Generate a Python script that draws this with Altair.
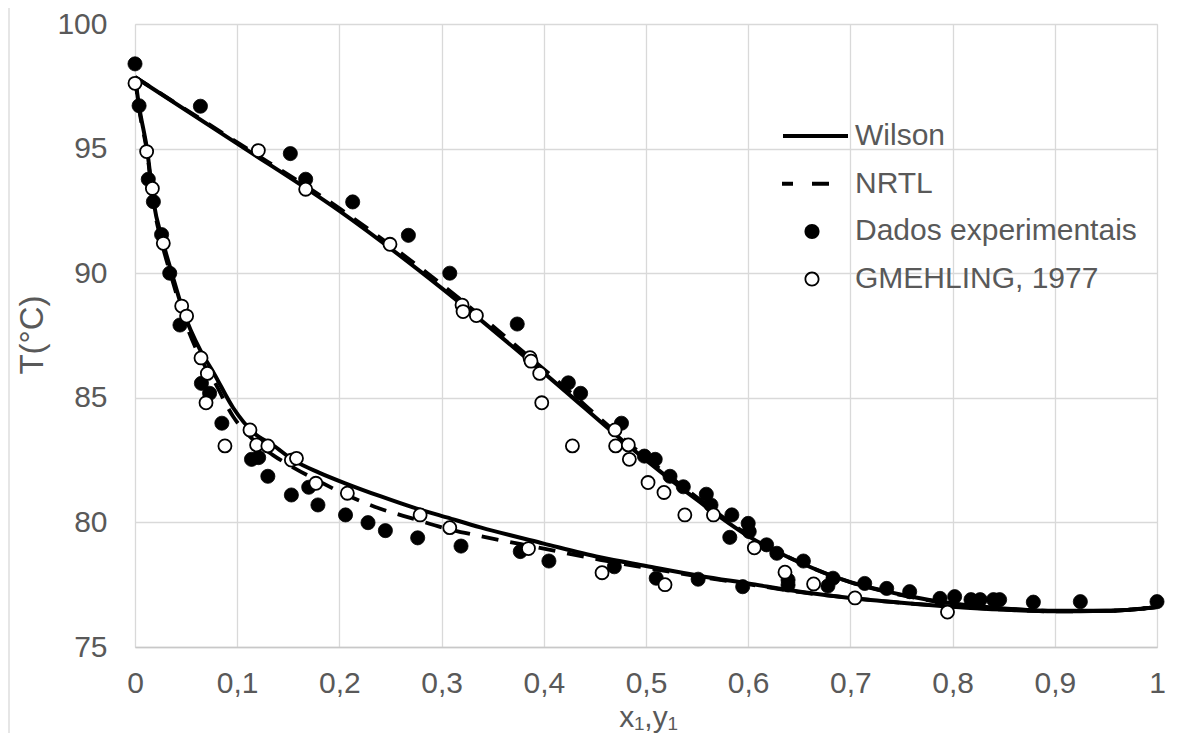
import altair as alt
import pandas as pd

# ---------------- data ----------------
SERIES = ["Wilson", "NRTL", "Dados experimentais", "GMEHLING, 1977"]

# Wilson model - liquid (T-x) branch
wil_liq_x = [0, 0.004, 0.012, 0.018, 0.027, 0.036, 0.047, 0.064, 0.077, 0.096, 0.116, 0.135,
             0.155, 0.18, 0.207, 0.24, 0.272, 0.305, 0.338, 0.4, 0.455, 0.5, 0.553, 0.6, 0.651,
             0.7, 0.75, 0.8, 0.85, 0.9, 0.95, 1.0]
wil_liq_T = [97.87, 96.7, 94.9, 92.9, 91.3, 90.0, 88.5, 86.9, 86.0, 84.6, 83.6, 83.1,
             82.5, 82.0, 81.55, 81.05, 80.6, 80.2, 79.8, 79.15, 78.6, 78.25, 77.85, 77.55, 77.22,
             76.97, 76.78, 76.62, 76.5, 76.43, 76.45, 76.6]
# Wilson model - vapour (T-y) branch
wil_vap_y = [0, 0.1, 0.2, 0.3, 0.4, 0.5, 0.55, 0.6, 0.65, 0.7, 0.75, 0.8, 0.85, 0.9, 0.95, 1.0]
wil_vap_T = [97.87, 95.2, 92.5, 89.4, 86.0, 82.5, 80.9, 79.45, 78.4, 77.6, 77.1, 76.75, 76.55,
             76.45, 76.45, 76.6]

# NRTL model - liquid branch
nrtl_liq_x = wil_liq_x
nrtl_liq_T = [97.87, 96.6, 94.8, 92.8, 91.1, 89.8, 88.3, 86.6, 85.7, 84.25, 83.3, 82.7,
              82.2, 81.65, 81.1, 80.55, 80.15, 79.75, 79.45, 78.95, 78.5, 78.18, 77.82, 77.52, 77.2,
              76.97, 76.77, 76.62, 76.5, 76.43, 76.45, 76.6]
# NRTL model - vapour branch
nrtl_vap_y = wil_vap_y
nrtl_vap_T = [97.87, 95.25, 92.6, 89.55, 86.15, 82.6, 81.0, 79.5, 78.4, 77.6, 77.08, 76.73, 76.54,
              76.45, 76.45, 76.6]

# Dados experimentais (filled circles)
exp_x = [0, 0.064, 0.152, 0.167, 0.213, 0.2675, 0.308, 0.374, 0.424, 0.436, 0.476, 0.4984,
         0.509, 0.5235, 0.5365, 0.559, 0.5636, 0.584, 0.582, 0.600, 0.601, 0.618, 0.628, 0.654,
         0.639, 0.639, 0.683, 0.678, 0.714, 0.7355, 0.758, 0.7877, 0.802, 0.818, 0.827, 0.840,
         0.846, 0.879, 0.925, 1.0,
         0.004, 0.013, 0.018, 0.026, 0.034, 0.044, 0.065, 0.073, 0.085, 0.114, 0.121, 0.130,
         0.153, 0.17, 0.179, 0.206, 0.228, 0.245, 0.2766, 0.319, 0.377, 0.405, 0.469, 0.51,
         0.551, 0.5946]
exp_T = [98.4, 96.7, 94.8, 93.77, 92.86, 91.52, 90.0, 87.96, 85.6, 85.18, 83.98, 82.66,
         82.53, 81.85, 81.43, 81.13, 80.7, 80.3, 79.4, 79.96, 79.63, 79.1, 78.76, 78.45,
         77.69, 77.49, 77.76, 77.45, 77.55, 77.35, 77.22, 76.95, 77.02, 76.9, 76.9, 76.9,
         76.9, 76.8, 76.82, 76.82,
         96.72, 93.77, 92.87, 91.55, 90.0, 87.92, 85.58, 85.18, 83.98, 82.53, 82.6, 81.85,
         81.1, 81.41, 80.7, 80.3, 79.99, 79.67, 79.38, 79.05, 78.83, 78.45, 78.22, 77.76,
         77.72, 77.42]

# GMEHLING, 1977 (open circles)
gm_x = [0, 0.0114, 0.017, 0.0277, 0.0457, 0.0505, 0.0646, 0.0708, 0.0695, 0.088, 0.1125,
        0.119, 0.13, 0.153, 0.158, 0.177, 0.2078, 0.279, 0.308, 0.385, 0.457, 0.5186,
        0.1207, 0.167, 0.2495, 0.320, 0.321, 0.334, 0.3865, 0.3875, 0.396, 0.398, 0.428,
        0.4697, 0.4703, 0.4827, 0.4837, 0.502, 0.5176, 0.538, 0.566, 0.606, 0.636, 0.664,
        0.7045, 0.795]
gm_T = [97.62, 94.88, 93.4, 91.2, 88.68, 88.28, 86.6, 85.98, 84.8, 83.07, 83.71,
        83.11, 83.07, 82.5, 82.57, 81.57, 81.17, 80.3, 79.79, 78.95, 77.98, 77.5,
        94.92, 93.37, 91.16, 88.72, 88.46, 88.3, 86.61, 86.47, 85.98, 84.8, 83.07,
        83.71, 83.07, 83.11, 82.53, 81.6, 81.2, 80.3, 80.3, 78.98, 78.0, 77.53,
        76.97, 76.4]

X_TICKS = [0, 0.1, 0.2, 0.3, 0.4, 0.5, 0.6, 0.7, 0.8, 0.9, 1]
Y_TICKS = [75, 80, 85, 90, 95, 100]

# ---------------- tables ----------------
def curve(model, branch, xs, ts):
    return pd.DataFrame({"model": model, "branch": branch, "x": xs, "T": ts,
                         "i": list(range(len(xs)))})

lines_df = pd.concat([
    curve("Wilson", "liq", wil_liq_x, wil_liq_T),
    curve("Wilson", "vap", wil_vap_y, wil_vap_T),
    curve("NRTL", "liq", nrtl_liq_x, nrtl_liq_T),
    curve("NRTL", "vap", nrtl_vap_y, nrtl_vap_T),
], ignore_index=True)
exp_df = pd.DataFrame({"x": exp_x, "T": exp_T})
gm_df = pd.DataFrame({"x": gm_x, "T": gm_T})
leg_df = pd.DataFrame({"series": SERIES, "x": [float("nan")] * 4, "T": [float("nan")] * 4})

W, H = 1022, 623
GRID = "#d9d9d9"
TXT = "#595959"
FONT = "Liberation Sans"

xscale = alt.Scale(domain=[0, 1], nice=False, zero=False)
yscale = alt.Scale(domain=[75, 100], nice=False, zero=False)

x_axis = alt.Axis(values=X_TICKS, labelExpr="replace(format(datum.value, '~g'), '.', ',')",
                  grid=True, gridColor=GRID, gridWidth=1.3, ticks=False, tickSize=0,
                  domain=True, domainColor="#c8c8c8", domainWidth=1.5,
                  labelFontSize=30, labelColor=TXT, labelFont=FONT,
                  labelBaseline="alphabetic", labelPadding=45, labelFlush=False,
                  title="x\u2081,y\u2081", titleFontSize=30, titleColor=TXT, titleFont=FONT,
                  titleFontWeight="normal", titleX=W / 2 + 2, titleY=79,
                  titleBaseline="alphabetic", titleAlign="center")
y_axis = alt.Axis(values=Y_TICKS, grid=True, gridColor=GRID, gridWidth=1.3, ticks=False,
                  tickSize=0, domain=False, labelFontSize=30, labelColor=TXT, labelFont=FONT,
                  labelPadding=28, labelBaseline="middle",
                  title="T(°C)", titleFontSize=33, titleColor=TXT, titleFont=FONT,
                  titleFontWeight="normal", titleAngle=270, titleX=-93, titleY=H / 2 - 1,
                  titleBaseline="alphabetic", titleAlign="center")

X = alt.X("x:Q", scale=xscale, axis=x_axis)
Y = alt.Y("T:Q", scale=yscale, axis=y_axis)

# chart frame (decoration)
frame_df = pd.DataFrame({"k": [0]})
frame_top = alt.Chart(frame_df).mark_rule(color=GRID, strokeWidth=1.3).encode(
    x=alt.value(-126), x2=alt.value(W + 12), y=alt.value(-18))
frame_left = alt.Chart(frame_df).mark_rule(color=GRID, strokeWidth=1.3).encode(
    x=alt.value(-126), y=alt.value(-18), y2=alt.value(H + 90))

wilson = alt.Chart(lines_df).transform_filter(alt.datum.model == "Wilson").mark_line(
    color="black", strokeWidth=4, interpolate="monotone").encode(
    x=X, y=Y, detail="branch:N", order="i:Q")
nrtl = alt.Chart(lines_df).transform_filter(alt.datum.model == "NRTL").mark_line(
    color="black", strokeWidth=3.8, strokeDash=[17, 12], interpolate="monotone").encode(
    x=X, y=Y, detail="branch:N", order="i:Q")

pts_exp = alt.Chart(exp_df).mark_point(shape="circle", filled=True, fill="black", stroke="black",
                                       strokeWidth=0.8, size=200, opacity=1).encode(x=X, y=Y)
pts_gm = alt.Chart(gm_df).mark_point(shape="circle", filled=False, fill="white", stroke="black",
                                     strokeWidth=1.8, size=170, opacity=1).encode(x=X, y=Y)

# legend symbols: filled custom paths (unit = 10 px with symbolSize 400)
outer = "M-1.05,0A0.75,0.75 0 1,0 0.45,0A0.75,0.75 0 1,0 -1.05,0Z"
inner_rev = "M-0.87,0A0.57,0.57 0 1,1 0.27,0A0.57,0.57 0 1,1 -0.87,0Z"
SHAPES = [
    "M-3.2,-0.2H3.3V0.2H-3.2Z",
    "M-3.3,-0.2H-2.2V0.2H-3.3ZM-0.3,-0.2H1.4V0.2H-0.3Z",
    outer,
    outer + inner_rev,
]
leg = alt.Legend(title=None, orient="none", legendX=665, legendY=97, padding=0,
                 symbolSize=400, symbolStrokeWidth=0, symbolFillColor="black",
                 labelFontSize=30, labelFont=FONT, labelColor=TXT, labelOffset=25,
                 labelLimit=500, rowPadding=17.7, symbolOpacity=1)
legend_layer = alt.Chart(leg_df).mark_point(clip=True, filled=True, color="black",
                                            strokeWidth=0, opacity=1).encode(
    x=X, y=Y,
    shape=alt.Shape("series:N", scale=alt.Scale(domain=SERIES, range=SHAPES), legend=leg),
)

chart = alt.layer(frame_top, frame_left, wilson, nrtl, pts_exp, pts_gm, legend_layer).properties(
    width=W, height=H,
    autosize=alt.AutoSizeParams(type="none"),
    padding={"left": 127, "top": 16, "right": 12, "bottom": 86},
    background="white",
).configure_view(stroke=None).configure(font=FONT)

chart.save("out.html", embed_options={"renderer": "svg", "actions": False})
